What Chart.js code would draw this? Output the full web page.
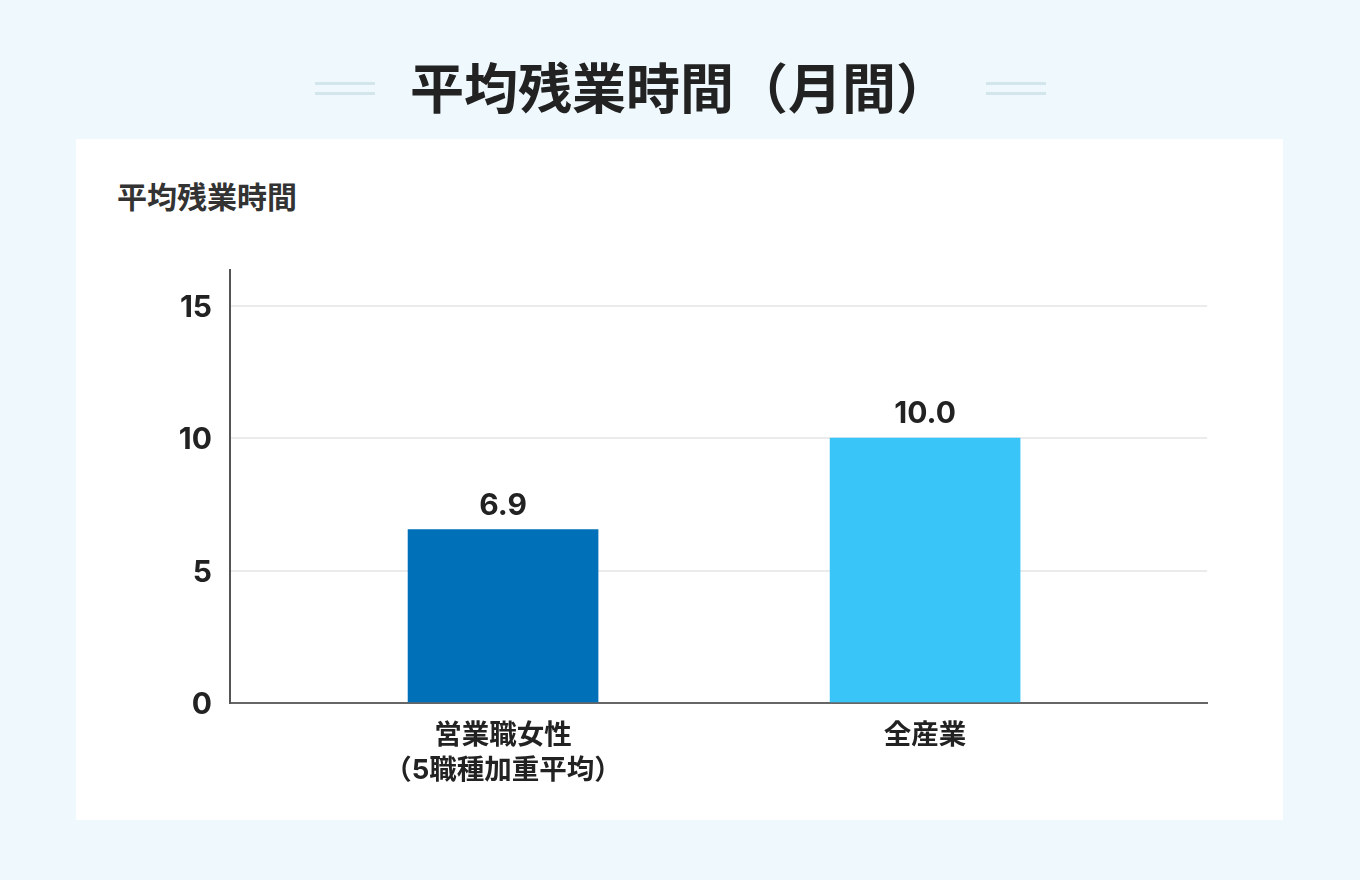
<!DOCTYPE html>
<html lang="ja">
<head>
<meta charset="utf-8">
<title>平均残業時間（月間）</title>
<script src="https://cdn.jsdelivr.net/npm/chart.js@4/dist/chart.umd.min.js"></script>
<style>
  body {
    margin: 0;
    width: 1360px;
    height: 880px;
    background: #eff8fc;
    font-family: Inter, "Noto Sans CJK JP", sans-serif;
    position: relative;
    overflow: hidden;
  }
  #pageTitle {
    position: absolute;
    left: 0;
    top: 63px;
    width: 1360px;
    text-align: center;
    font-size: 54px;
    font-weight: 700;
    line-height: 1;
    color: #222;
  }
  .deco {
    position: absolute;
    top: 82px;
    width: 60px;
    height: 13px;
    border-top: 3px solid #d3e6ec;
    border-bottom: 3px solid #d3e6ec;
    box-sizing: border-box;
  }
  #card {
    position: absolute;
    left: 76px;
    top: 139px;
    width: 1207px;
    height: 681px;
    background: #fff;
  }
  #axisTitle {
    position: absolute;
    left: 41px;
    top: 43px;
    font-size: 30px;
    font-weight: 700;
    line-height: 1;
    color: #333;
  }
  #chartBox {
    position: absolute;
    left: 0;
    top: 0;
    width: 1207px;
    height: 681px;
  }
</style>
</head>
<body>
<div class="deco" style="left:315px"></div>
<div id="pageTitle">平均残業時間（月間）</div>
<div class="deco" style="left:986px"></div>
<div id="card">
  <div id="axisTitle">平均残業時間</div>
  <div id="chartBox"><canvas id="overtimeChart"></canvas></div>
</div>

<script>
// categories (multi-line labels)
const categories = [
  ['営業職女性', '（5職種加重平均）'],
  ['全産業']
];
// bar heights as drawn in the picture, and the printed value labels
const barHeights = [6.55, 10.0];
const valueLabels = ['6.9', '10.0'];
const barColors = ['#0071b9', '#3ac5f9'];
const yTicks = [0, 5, 10, 15];

const FONT = 'Inter, "Noto Sans CJK JP", sans-serif';

// draws the numbers above each bar
const valueLabelPlugin = {
  id: 'valueLabels',
  afterDatasetsDraw(chart) {
    const ctx = chart.ctx;
    const meta = chart.getDatasetMeta(0);
    ctx.save();
    ctx.font = '700 30px ' + FONT;
    ctx.fillStyle = '#222';
    ctx.textAlign = 'center';
    ctx.textBaseline = 'alphabetic';
    meta.data.forEach((bar, i) => {
      ctx.fillText(valueLabels[i], bar.x, bar.y - 15);
    });
    ctx.restore();
  }
};

new Chart(document.querySelector('#overtimeChart'), {
  type: 'bar',
  data: {
    datasets: [{
      data: barHeights.map((v, i) => ({ x: i, y: v })),
      backgroundColor: barColors,
      borderWidth: 0,
      barThickness: 190
    }]
  },
  options: {
    responsive: true,
    maintainAspectRatio: false,
    animation: false,
    layout: {
      padding: { top: 131, right: 76, left: 0, bottom: 0 }
    },
    plugins: {
      legend: { display: false },
      tooltip: { enabled: false }
    },
    scales: {
      x: {
        type: 'linear',
        offset: false,
        min: -0.647,
        max: 1.668,
        grid: { display: false, drawTicks: false, offset: false },
        border: { display: true, color: '#666', width: 2 },
        afterBuildTicks: (scale) => {
          scale.ticks = categories.map((c, i) => ({ value: i }));
        },
        afterFit: (scale) => { scale.height = 117; },
        ticks: {
          autoSkip: false,
          maxRotation: 0,
          padding: 15,
          color: '#222',
          font: { family: FONT, size: 27.5, weight: '700', lineHeight: 1.27 },
          callback: (value) => categories[value]
        }
      },
      y: {
        min: 0,
        max: 16.35,
        afterBuildTicks: (scale) => {
          scale.ticks = yTicks.map(v => ({ value: v }));
        },
        afterFit: (scale) => { scale.width = 154; },
        grid: { color: '#ebebeb', lineWidth: 2, drawTicks: false },
        border: { display: true, color: '#555', width: 2 },
        ticks: {
          padding: 18,
          labelOffset: 2,
          color: '#222',
          font: { family: FONT, size: 30, weight: '700' }
        }
      }
    }
  },
  plugins: [valueLabelPlugin]
});
</script>
</body>
</html>
